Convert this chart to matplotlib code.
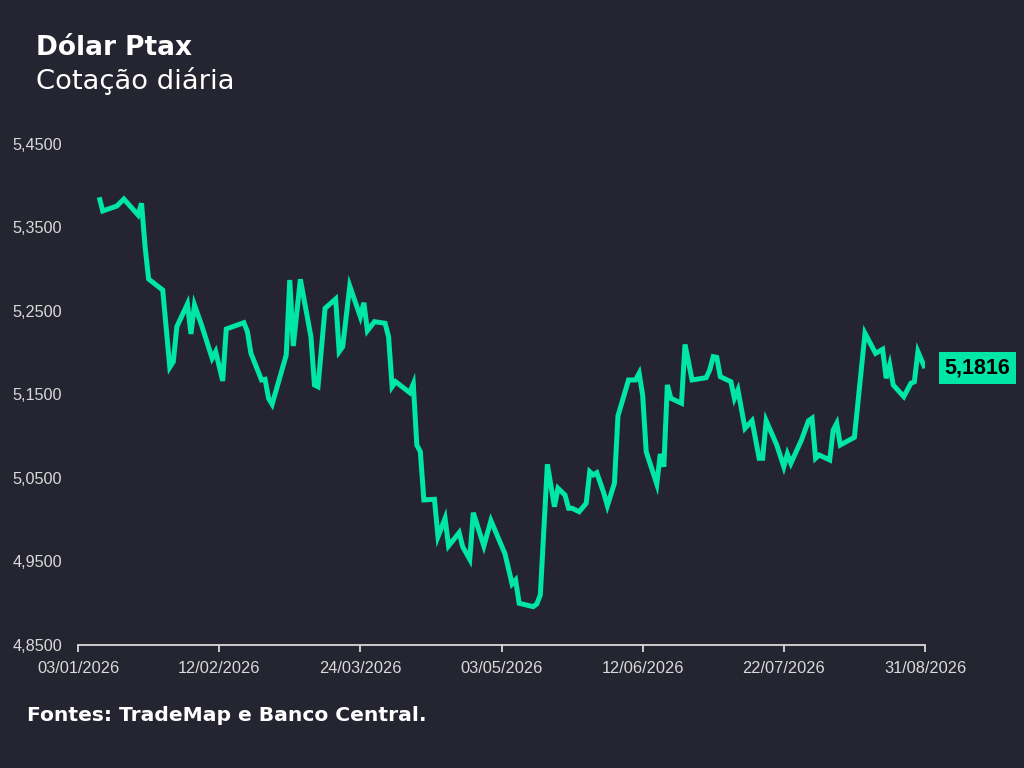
import numpy as np
import pandas as pd
import matplotlib
matplotlib.use("Agg")
import matplotlib.pyplot as plt
import matplotlib.dates as mdates
from matplotlib.ticker import FuncFormatter

# dias corridos desde 03/01/2026 e cotação (R$/US$) nos pontos de virada da linha
dias = [6, 7, 11, 13, 17, 18, 19, 20, 24, 26, 27, 28, 31, 32, 33, 35, 38, 39, 41, 42,
        47, 48, 49, 52, 53, 54, 55, 59, 60, 61, 63, 66, 67, 68, 70, 73, 74, 75, 77, 80,
        81, 82, 84, 87, 88, 89, 90, 94, 95, 96, 97, 98, 101, 102, 104, 105, 108, 109, 111, 112,
        115, 117, 121, 123, 124, 125, 129, 130, 131, 133, 135, 136, 138, 139, 140, 142, 144, 145, 146, 147,
        149, 150, 152, 153, 156, 158, 159, 160, 161, 164, 165, 166, 167, 168, 171, 172, 174, 178, 179, 180,
        181, 182, 185, 186, 187, 189, 191, 193, 194, 195, 198, 200, 201, 202, 205, 207, 208, 209, 210, 213,
        214, 215, 216, 220, 223, 226, 228, 229, 230, 231, 234, 236, 237, 238, 240]
ptax = [5.3862, 5.3698, 5.3757, 5.3841, 5.3650, 5.3790, 5.3270, 5.2883, 5.2751, 5.1826,
        5.1893, 5.2312, 5.2584, 5.2225, 5.2572, 5.2332, 5.1934, 5.2013, 5.1662, 5.2284,
        5.2360, 5.2252, 5.1993, 5.1674, 5.1682, 5.1454, 5.1383, 5.1973, 5.2871, 5.2081,
        5.2880, 5.2192, 5.1614, 5.1593, 5.2532, 5.2644, 5.2013, 5.2072, 5.2799, 5.2432,
        5.2599, 5.2264, 5.2372, 5.2353, 5.2192, 5.1593, 5.1653, 5.1522, 5.1626, 5.0895,
        5.0815, 5.0237, 5.0245, 4.9797, 5.0017, 4.9686, 4.9845, 4.9677, 4.9526, 5.0084,
        4.9686, 4.9989, 4.9590, 4.9231, 4.9278, 4.8999, 4.8959, 4.8991, 4.9099, 5.0664,
        5.0156, 5.0377, 5.0296, 5.0137, 5.0137, 5.0096, 5.0197, 5.0575, 5.0536, 5.0563,
        5.0317, 5.0168, 5.0437, 5.1243, 5.1674, 5.1674, 5.1754, 5.1494, 5.0815, 5.0428,
        5.0787, 5.0635, 5.1614, 5.1454, 5.1395, 5.2099, 5.1674, 5.1701, 5.1793, 5.1953,
        5.1945, 5.1713, 5.1653, 5.1454, 5.1554, 5.1095, 5.1186, 5.0736, 5.0736, 5.1186,
        5.0895, 5.0635, 5.0787, 5.0676, 5.0955, 5.1186, 5.1215, 5.0736, 5.0775, 5.0716,
        5.1075, 5.1155, 5.0895, 5.0987, 5.2233, 5.1993, 5.2041, 5.1694, 5.1853, 5.1614,
        5.1474, 5.1634, 5.1653, 5.2013, 5.1816]

inicio = pd.Timestamp("2026-01-03")
fim = pd.Timestamp("2026-08-31")
datas = inicio + pd.to_timedelta(dias, unit="D")
ticks_x = pd.date_range(inicio, fim, freq="40D")
ticks_y = np.arange(4.85, 5.4501, 0.1)

fundo = "#242530"
verde = "#00e6a6"
cinza = "#d9d9d9"

fig = plt.figure(figsize=(10.24, 7.68), dpi=100, facecolor=fundo)
ax = fig.add_axes([0.0762, 0.1602, 0.8271, 0.6523])
ax.set_facecolor(fundo)

ax.plot(datas, ptax, color=verde, lw=3.6, solid_joinstyle="miter", solid_capstyle="butt")

ax.set_xlim(inicio, fim)
ax.set_ylim(4.85, 5.45)
ax.set_xticks(ticks_x)
ax.xaxis.set_major_formatter(mdates.DateFormatter("%d/%m/%Y"))
ax.set_yticks(ticks_y)
ax.yaxis.set_major_formatter(FuncFormatter(lambda v, p: f"{v:.4f}".replace(".", ",")))

for s in ["top", "right", "left"]:
    ax.spines[s].set_visible(False)
ax.spines["bottom"].set_color(cinza)
ax.spines["bottom"].set_linewidth(1.3)
ax.tick_params(axis="x", colors=cinza, length=5, width=1.3, pad=6.5, labelsize=11.8)
ax.tick_params(axis="y", colors=cinza, length=0, pad=11.5, labelsize=11.7)
for lab in ax.get_xticklabels() + ax.get_yticklabels():
    lab.set_family("Liberation Sans")

# rótulo do último valor
ax.annotate(f"{ptax[-1]:.4f}".replace(".", ","), xy=(datas[-1], ptax[-1]),
            xytext=(14, 0), textcoords="offset points", va="center", ha="left",
            fontsize=15.5, fontweight="bold", family="Liberation Sans", color="black",
            bbox=dict(boxstyle="square,pad=0.25", fc=verde, ec="none"),
            annotation_clip=False)

fig.text(0.035, 0.937, "Dólar Ptax", color="white", fontsize=19, fontweight="bold",
         family="DejaVu Sans", va="center")
fig.text(0.035, 0.895, "Cotação diária", color="white", fontsize=19.7,
         family="DejaVu Sans", va="center")
fig.text(0.026, 0.068, "Fontes: TradeMap e Banco Central.", color="white", fontsize=14.6,
         fontweight="bold", family="DejaVu Sans", va="center")

fig.savefig("out.png", dpi=100, facecolor=fundo)
